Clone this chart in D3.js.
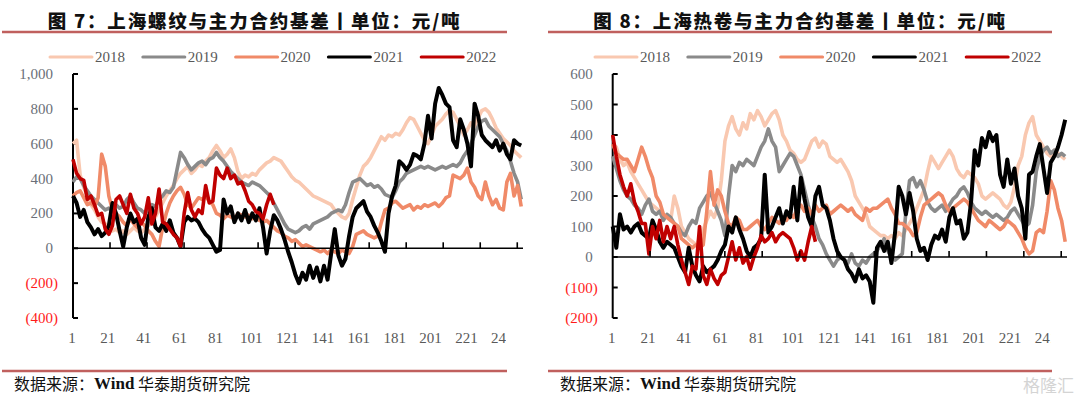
<!DOCTYPE html>
<html>
<head>
<meta charset="utf-8">
<script src="https://cdn.jsdelivr.net/npm/d3@7"></script>
<style>
  html, body { margin: 0; padding: 0; background: #fff; }
  svg { display: block; }
</style>
</head>
<body>
<svg id="chart" width="1080" height="398"></svg>
<script>
// ---- data (one value every 2 trading days) ----
const years = ['2018', '2019', '2020', '2021', '2022'];
const dayStart = 1;
const dayStep = 2;
const xTickLabels = [1, 21, 41, 61, 81, 101, 121, 141, 161, 181, 201, 221, 241];
const rebarYTicks = [-400, -200, 0, 200, 400, 600, 800, 1000];
const coilYTicks = [-200, -100, 0, 100, 200, 300, 400, 500, 600];

const rebarTitle = '图 7：上海螺纹与主力合约基差丨单位：元/吨';
const coilTitle = '图 8：上海热卷与主力合约基差丨单位：元/吨';
const sourceParts = ['数据来源：', 'Wind', ' 华泰期货研究院'];

// 上海螺纹
const rebar2018 = [
  600, 620, 420, 350, 300, 250, 220, 180, 150, 140,
  120, 100, 110, 90, 100, 80, 100, 120, 100, 90,
  110, 130, 150, 180, 220, 260, 300, 330, 360, 400,
  430, 450, 470, 430, 450, 480, 470, 500, 520, 560,
  590, 560, 520, 540, 570, 520, 440, 400, 420, 410,
  430, 420, 450, 470, 490, 500, 520, 510, 500, 470,
  440, 410, 390, 380, 360, 340, 320, 300, 290, 280,
  270, 260, 250, 220, 200, 180, 170, 200, 280, 350,
  420, 470, 490, 520, 560, 600, 640, 620, 650, 640,
  660, 650, 680, 720, 750, 740, 700, 660, 620, 600,
  650, 700, 720, 740, 770, 790, 780, 740, 700, 650,
  680, 720, 700, 750, 790, 800, 780, 740, 690, 660,
  630, 610, 590, 560, 540, 520
];
const rebar2019 = [
  380, 410, 400, 360, 330, 300, 280, 260, 240, 220,
  230, 210, 250, 230, 240, 280, 300, 260, 230, 220,
  200, 220, 250, 240, 280, 300, 330, 320, 350, 450,
  550, 520, 480, 450, 470, 490, 500, 480, 510, 520,
  550, 520, 500, 470, 440, 420, 400, 380, 370, 360,
  380, 370, 360, 340, 320, 300, 260, 220, 180, 140,
  110, 100, 90, 100, 120, 130, 110, 140, 150, 160,
  170, 180, 200, 210, 220, 210, 250, 320, 380, 390,
  400, 380, 360, 370, 350, 360, 340, 310, 300, 290,
  330, 380, 400, 430, 440, 450, 460, 470, 460, 470,
  460, 450, 460, 470, 460, 470, 480, 470, 490, 530,
  560, 600, 650, 700, 730, 740, 700, 680, 660, 640,
  600, 560, 500, 430, 380, 280
];
const rebar2020 = [
  300, 320, 330, 290, 250, 260, 240, 290, 540, 470,
  300, 220, 200, 180, 150, 130, 170, 140, 120, 150,
  130, 100, 80, 40, 10, 120, 200, 260, 300, 330,
  350, 310, 250, 230, 260, 290, 280, 300, 270, 250,
  200, 190, 170, 190, 180, 170, 200, 190, 180, 190,
  170, 180, 160, 150, 160, 140, 120, 100, 90, 70,
  60, 40, 50, 30, 10, 20, 10, 0, -10, -20,
  -10, -30, -10, -20, -30, -10, -20, -30, 10, 80,
  90, 100, 80, 70, 60, 70, 150, 220, 230, 260,
  270, 250, 230, 240, 250, 220, 240, 230, 250, 240,
  250, 260, 240, 260, 290, 300, 420, 410, 400, 420,
  460, 380, 350, 300, 280, 380, 300, 250, 280, 230,
  220, 380, 430, 300, 360, 240
];
const rebar2021 = [
  300, 260, 180, 220, 150, 120, 80, 110, 70, 90,
  130, 260, 200, 100, 10, 120, 200, 150, 170, 60,
  20, 180, 230, 120, 100, 140, 100, 160, 90, 60,
  10, 150, 180, 160, 170, 150, 110, 80, 60, 20,
  -20, -10, 280, 200, 240, 150, 200, 160, 220, 150,
  200, 160, 230, 120, -30, 100, 190, 160, 110, 50,
  -20, -80, -150, -200, -140, -180, -100, -170, -110, -190,
  -100, -180, -30, 110, -40, -100, -60, 70, 180, 230,
  250, 270, 210, 180, 130, 90, 40, -20, 200, 300,
  360, 500, 480, 450, 480, 540, 530, 510, 600, 760,
  630, 830, 920, 880, 830, 810, 620, 580, 740, 680,
  600, 470, 830, 760, 650, 620, 600, 580, 620, 560,
  600, 540, 510, 620, 600, 590
];
const rebar2022 = [
  510, 430, 400, 390, 280, 300, 250, 190, 200, 110,
  80, 130, 280, 300, 250, 200, 310, 230, 200, 140,
  180, 290, 140, 200, 340, 150, 140, 110, 80, 60,
  10, 200, 320, 220, 180, 220, 200, 360, 260, 270,
  460, 420, 400, 460, 400, 420, 370, 380, 330, 270,
  250, 210, 200, 170, 250, 310, 250
];

// 上海热卷
const coil2018 = [
  370, 360, 320, 300, 310, 280, 260, 240, 220, 200,
  180, 170, 160, 150, 140, 130, 120, 200, 160, 100,
  80, 60, 50, 40, 60, 90, 120, 150, 130, 160,
  250, 380, 430, 460, 420, 400, 440, 420, 470, 450,
  480, 460, 430, 450, 470, 480, 450, 400, 380, 350,
  340, 320, 310, 320, 350, 380, 390, 360, 380, 370,
  330, 320, 310, 320, 300, 280, 250, 200, 180, 160,
  140, 100, 90, 80, 70, 70, 60, 70, 60, 80,
  70, 90, 110, 130, 160, 190, 220, 280, 330, 310,
  290, 310, 330, 350, 330, 290, 270, 260, 280, 270,
  260, 240, 200, 190, 200, 210, 200, 190, 170, 160,
  180, 230, 300, 330, 400, 440, 460, 400, 380, 360,
  340, 330, 350, 340, 330, 320
];
const coil2019 = [
  330, 290, 250, 220, 200, 190, 170, 160, 140, 170,
  190, 150, 140, 150, 120, 140, 130, 110, 100, 80,
  70, 100, 120, 110, 160, 180, 200, 210, 180, 150,
  120, 70, 200, 300, 280, 310, 300, 320, 310, 300,
  330, 360, 380, 420, 380, 360, 280, 300, 320, 340,
  330, 300, 270, 220, 170, 130, 100, 60, 40, 10,
  -10, -30, -10, 0, -10, -20, 10, -20, -30, -10,
  -20, 0, 10, 20, 40, 60, 20, 0, -10, 0,
  10, 150, 250, 260, 230, 250, 220, 180, 160, 150,
  160, 170, 150, 170, 190, 200, 220, 230, 210, 180,
  160, 150, 140, 150, 140, 130, 140, 130, 120, 130,
  150, 160, 140, 120, 100, 110, 170, 280, 330, 350,
  360, 340, 350, 330, 340, 330
];
const coil2020 = [
  370, 340, 330, 320, 320, 300, 280, 320, 360, 330,
  290, 260, 200, 180, 140, 130, 120, 110, 100, 60,
  50, 40, 30, 40, 30, 40, 150, 280, 170, 220,
  200, 150, 110, 100, 130, 120, 90, 90, 100, 110,
  120, 100, 90, 110, 130, 120, 110, 130, 120, 140,
  130, 160, 170, 150, 160, 140, 170, 150, 160, 170,
  140, 150, 160, 170, 160, 150, 160, 140, 130, 120,
  160, 150, 160, 160, 170, 180, 190, 160, 140, 110,
  110, 100, 90, 70, 80, 130, 170, 180, 190, 200,
  210, 200, 170, 150, 160, 170, 180, 190, 180, 160,
  140, 120, 110, 100, 120, 110, 100, 90, 100, 120,
  110, 100, 80, 60, 30, 10, 20, 80, 90, 80,
  150, 250, 220, 160, 120, 50
];
const coil2021 = [
  100, 30, 140, 90, 100, 80, 100, 110, 80, 70,
  60, 120, 90, 50, 30, 50, 40, 30, 0, -30,
  -50, 30, -30, -60, -80, -30, -50, -40, -30, -10,
  20, 40, 100, 80, 130, 90, 60, 20, 0, 30,
  40, 60, 270, 80, 100, 130, 160, 110, 150, 130,
  230, 120, 260, 190, 130, 100, 200, 230, 170, 160,
  120, 60, 20, 0, -10, -40, -55, -80, -40, -70,
  -60, -80, -150, 30, 50, 20, 50, -20, 80, 230,
  200, 140, 210, 150, 60, 20, 30, -10, 40, 70,
  60, 90, 50, 130, 160, 110, 120, 60, 80, 180,
  350, 300, 390, 360, 410, 380, 400, 270, 230, 320,
  240, 290, 200, 160, 60, 270, 280, 330, 370, 290,
  210, 310, 330, 360, 400, 450
];
const coil2022 = [
  400, 330, 270, 230, 200, 240, 180, 150, 110, 110,
  10, 100, 60, 120, 50, 100, 60, 100, 40, -10,
  -50, -90, -30, -40, 100, -60, -90, -40, -70, -90,
  -60, -50, 0, 50, -10, 30, -20, 0, -40, 0,
  30, 70, 50, 60, 80, 50, 70, 80, 70, 60,
  30, -10, 20, -10, 50, 100, 50
];

// ---- styling ----
const seriesColors = ['#f9c8b0', '#8a8a8a', '#f08a68', '#000000', '#c00000'];
const seriesWidths = [3.6, 3.6, 3.6, 4, 3.6];
const accent = '#c0605e';
const serif = '"Liberation Serif", "Times New Roman", serif';
const cjk = '"Noto Sans CJK SC", "Noto Sans", sans-serif';

const svg = d3.select('#chart');
const fmt = d3.format(',');

function drawPanel(cfg) {
  const g = svg.append('g');
  const x = d3.scaleLinear().domain([1, 252]).range([cfg.left, cfg.right]);
  const y = d3.scaleLinear().domain(d3.extent(cfg.yTicks)).range([318, 74]);
  const mid = (cfg.panel0 + cfg.panel1) / 2;

  // title + rules
  g.append('text')
    .attr('x', mid).attr('y', 20)
    .attr('text-anchor', 'middle').attr('dominant-baseline', 'central')
    .style('font-family', cjk).style('font-weight', 900)
    .style('font-size', '18.5px').style('letter-spacing', '1.8px')
    .attr('fill', '#111').text(cfg.title);
  [32, 371].forEach(yy => {
    g.append('line')
      .attr('x1', cfg.panel0).attr('x2', cfg.panel1)
      .attr('y1', yy).attr('y2', yy)
      .attr('stroke', accent).attr('stroke-width', 2.5);
  });
  const src = g.append('text')
    .attr('x', cfg.panel0 + 12).attr('y', 383)
    .attr('dominant-baseline', 'central')
    .style('font-size', '16px')
    .attr('fill', '#111');
  sourceParts.forEach((s, i) => {
    src.append('tspan')
      .style('font-family', i === 1 ? serif : cjk)
      .style('font-weight', i === 1 ? 700 : 400)
      .style('font-size', i === 1 ? '17px' : '16px')
      .text(s);
  });

  // legend
  const leg = g.append('g');
  years.forEach((yr, i) => {
    const lx = cfg.legendX + i * 92.8;
    leg.append('line')
      .attr('x1', lx).attr('x2', lx + 42).attr('y1', 57).attr('y2', 57)
      .attr('stroke', seriesColors[i]).attr('stroke-width', 3)
      .attr('stroke-linecap', 'round');
    leg.append('text')
      .attr('x', lx + 45).attr('y', 57).attr('dominant-baseline', 'central')
      .style('font-family', serif).style('font-size', '15px')
      .attr('fill', '#595959').text(yr);
  });

  // y axis
  g.append('line')
    .attr('x1', cfg.left).attr('x2', cfg.left)
    .attr('y1', y.range()[1]).attr('y2', y.range()[0])
    .attr('stroke', '#000').attr('stroke-width', 2);
  cfg.yTicks.forEach(v => {
    g.append('line')
      .attr('x1', cfg.left).attr('x2', cfg.left + 5)
      .attr('y1', y(v)).attr('y2', y(v))
      .attr('stroke', '#000').attr('stroke-width', 2);
    g.append('text')
      .attr('x', cfg.left - (v < 0 ? 15 : 20)).attr('y', y(v))
      .attr('text-anchor', 'end').attr('dominant-baseline', 'central')
      .style('font-family', serif).style('font-size', '15px')
      .attr('fill', v < 0 ? '#ff1a1a' : '#6b6f78')
      .text(v < 0 ? '(' + fmt(-v) + ')' : fmt(v));
  });

  // x labels, clipped at panel edge like the original
  const clipId = 'clip' + cfg.panel0;
  svg.append('clipPath').attr('id', clipId)
    .append('rect').attr('x', 0).attr('y', 320).attr('width', cfg.panel1 - 1).attr('height', 40);
  const xl = g.append('g').attr('clip-path', `url(#${clipId})`);
  xTickLabels.forEach(d => {
    xl.append('text')
      .attr('x', x(d) - 1).attr('y', 338)
      .attr('text-anchor', 'middle').attr('dominant-baseline', 'central')
      .style('font-family', serif).style('font-size', '15px')
      .attr('fill', '#595959').text(d);
  });

  // series
  const line = d3.line()
    .x((d, i) => x(dayStart + i * dayStep))
    .y(d => y(d));
  cfg.series.forEach((vals, i) => {
    g.append('path')
      .attr('d', line(vals))
      .attr('fill', 'none')
      .attr('stroke', seriesColors[i])
      .attr('stroke-width', seriesWidths[i])
      .attr('stroke-linejoin', 'round');
  });

  // zero line with small upward ticks
  g.append('line')
    .attr('x1', cfg.left).attr('x2', cfg.right)
    .attr('y1', y(0)).attr('y2', y(0))
    .attr('stroke', '#000').attr('stroke-width', 1.6);
  d3.range(1, 13).forEach(k => {
    const tx = x(1 + k * 20.65);
    g.append('line')
      .attr('x1', tx).attr('x2', tx)
      .attr('y1', y(0)).attr('y2', y(0) - 6)
      .attr('stroke', '#000').attr('stroke-width', 1.6);
  });
}

drawPanel({
  panel0: 2, panel1: 507, left: 73, right: 523, legendX: 50,
  title: rebarTitle, yTicks: rebarYTicks,
  series: [rebar2018, rebar2019, rebar2020, rebar2021, rebar2022]
});
drawPanel({
  panel0: 548, panel1: 1052, left: 612.7, right: 1067, legendX: 595,
  title: coilTitle, yTicks: coilYTicks,
  series: [coil2018, coil2019, coil2020, coil2021, coil2022]
});

// faint watermark bottom right
svg.append('text')
  .attr('x', 1074).attr('y', 384).attr('text-anchor', 'end')
  .attr('dominant-baseline', 'central')
  .style('font-family', cjk).style('font-size', '17px')
  .attr('fill', '#d4d4d4').text('格隆汇');
</script>
</body>
</html>
